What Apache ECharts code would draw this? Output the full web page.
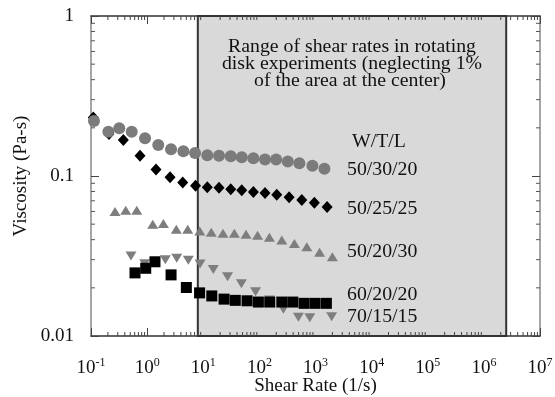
<!DOCTYPE html>
<html><head><meta charset="utf-8">
<script src="https://cdn.jsdelivr.net/npm/echarts@6/dist/echarts.min.js"></script>
<style>html,body{margin:0;padding:0;background:#fff}#c{width:555px;height:397px}</style>
</head><body><div id="c"></div>
<script>
// ---- data ----
const xExponents = [-1, 0, 1, 2, 3, 4, 5, 6, 7];
const yTickLabels = ['0.01', '0.1', '1'];
const xMin = 0.1, xMax = 1e7, yMin = 0.01, yMax = 1;
const rangeStart = 8, rangeEnd = 2.5e6;

const s503020X = [0.113, 0.204, 0.319, 0.531, 0.918, 1.58, 2.67, 4.42, 7.14, 11.8, 19.1, 30.9, 48.5, 78.2, 126, 199, 321, 516, 881, 1442];
const s503020Y = [0.221, 0.189, 0.199, 0.189, 0.172, 0.156, 0.147, 0.143, 0.139, 0.135, 0.134, 0.133, 0.131, 0.129, 0.127, 0.127, 0.123, 0.120, 0.116, 0.111];

const s502525X = [0.110, 0.209, 0.377, 0.747, 1.44, 2.56, 4.31, 7.29, 11.8, 19.1, 30.9, 48.5, 78.2, 126, 204, 339, 570, 955, 1610];
const s502525Y = [0.232, 0.183, 0.168, 0.134, 0.110, 0.0981, 0.0910, 0.0868, 0.0850, 0.0845, 0.0827, 0.0814, 0.0794, 0.0783, 0.0764, 0.0736, 0.0708, 0.0681, 0.0640];

const s502030X = [0.268, 0.416, 0.653, 1.26, 1.95, 3.31, 5.29, 8.67, 13.9, 22.5, 35.8, 57.9, 92.9, 151, 251, 421, 700, 1183, 2000];
const s502030Y = [0.0600, 0.0610, 0.0610, 0.0499, 0.0504, 0.0465, 0.0465, 0.0453, 0.0445, 0.0438, 0.0438, 0.0432, 0.0426, 0.0414, 0.0398, 0.0379, 0.0361, 0.0334, 0.0313];

const s701515X = [0.516, 0.906, 1.39, 2.11, 3.37, 5.42, 8.77, 15.1, 27.1, 47.8, 85.5, 152, 268, 496, 791, 1936];
const s701515Y = [0.0316, 0.0283, 0.0286, 0.0300, 0.0306, 0.0297, 0.0282, 0.0260, 0.0235, 0.0212, 0.0189, 0.0168, 0.0147, 0.0131, 0.0130, 0.0132];

const s602020X = [0.608, 0.944, 1.38, 2.67, 5.0, 8.6, 14.2, 23.5, 37.2, 60.4, 96, 153, 251, 394, 626, 984, 1563];
const s602020Y = [0.0248, 0.0265, 0.0291, 0.0241, 0.0201, 0.0186, 0.0178, 0.0170, 0.0167, 0.0166, 0.0163, 0.0163, 0.0163, 0.0163, 0.0160, 0.0160, 0.0160];

const legendTitle = 'W/T/L';
const seriesNames = ['50/30/20', '50/25/25', '50/20/30', '60/20/20', '70/15/15'];
const noteLines = ['Range of shear rates in rotating', 'disk experiments (neglecting 1%', 'of the area at the center)'];

// ---- helpers ----
const zip = (xs, ys) => xs.map((x, i) => [x, ys[i]]);
function minorTicks(lo, hi) {
  const out = [];
  for (let e = Math.round(Math.log10(lo)); e < Math.round(Math.log10(hi)); e++)
    for (let m = 2; m <= 9; m++) out.push(+(m * Math.pow(10, e)).toPrecision(6));
  return out;
}
const minorX = minorTicks(xMin, xMax);
const minorY = minorTicks(yMin, yMax);
const FONT = '"Liberation Serif", "Times New Roman", serif';
const TXT = '#111';

const chart = echarts.init(document.getElementById('c'));

function axisBase(extra) {
  return Object.assign({
    type: 'log', logBase: 10,
    splitLine: { show: false },
    axisTick: { show: true, inside: true, length: 8, lineStyle: { color: '#444', width: 1 } },
  }, extra);
}
function note(text, x, y, align) {
  return { type: 'text', x: x, y: y, scaleX: 1.1, z: 10,
    style: { text: text, font: '18px ' + FONT, fill: TXT, textAlign: align, textVerticalAlign: 'middle', align: align, verticalAlign: 'middle' } };
}

const option = {
  backgroundColor: '#fff',
  animation: false,
  grid: { left: 91, top: 16, width: 449, height: 320, containLabel: false, outerBoundsMode: 'none' },
  xAxis: [
    axisBase({
      position: 'bottom', min: xMin, max: xMax, splitNumber: 8,
      axisLine: { lineStyle: { color: '#333', width: 1.5 } },
      axisLabel: {
        margin: 21,
        formatter: function (v) {
          const e = Math.round(Math.log10(v));
          const ex = xExponents[xExponents.indexOf(e)];
          return '{b|10}{s|' + ex + '}';
        },
        rich: {
          b: { fontFamily: FONT, fontSize: 19, color: TXT, lineHeight: 22 },
          s: { fontFamily: FONT, fontSize: 12, color: TXT, verticalAlign: 'top', lineHeight: 14 }
        }
      },
      name: 'Shear Rate (1/s)', nameLocation: 'middle', nameGap: 41, nameMoveOverlap: false,
      nameTextStyle: { fontFamily: FONT, fontSize: 19, color: TXT }
    }),
    axisBase({
      position: 'top', min: xMin, max: xMax, splitNumber: 8,
      axisLine: { lineStyle: { color: '#333', width: 1.5 } },
      axisLabel: { show: false }
    })
  ],
  yAxis: [
    axisBase({
      position: 'left', min: yMin, max: yMax, splitNumber: 2,
      axisLine: { lineStyle: { color: '#888', width: 1.5 } },
      axisLabel: {
        margin: 17,
        fontFamily: FONT, fontSize: 19, color: TXT,
        formatter: function (v) {
          const i = Math.round(Math.log10(v / yMin));
          return yTickLabels[i];
        }
      },
      name: 'Viscosity (Pa-s)', nameLocation: 'middle', nameGap: 60, nameMoveOverlap: false,
      nameTextStyle: { fontFamily: FONT, fontSize: 19, color: TXT }
    }),
    axisBase({
      position: 'right', min: yMin, max: yMax, splitNumber: 2,
      axisLine: { lineStyle: { color: '#888', width: 1.5 } },
      axisLabel: { show: false }
    })
  ],
  series: [
    {
      type: 'scatter', name: seriesNames[1], data: zip(s502525X, s502525Y),
      symbol: 'diamond', symbolSize: [11, 12],
      itemStyle: { color: '#000', opacity: 1 }, z: 3,
      markArea: {
        silent: true,
        itemStyle: { color: '#d9d9d9', borderColor: '#333', borderWidth: 2, opacity: 1 },
        data: [[{ xAxis: rangeStart, yAxis: yMin }, { xAxis: rangeEnd, yAxis: yMax }]]
      }
    },
    {
      type: 'scatter', name: seriesNames[0], data: zip(s503020X, s503020Y),
      symbol: 'circle', symbolSize: 12,
      itemStyle: { color: '#7b7b7b', opacity: 1 }, z: 4
    },
    {
      type: 'scatter', name: seriesNames[2], data: zip(s502030X, s502030Y),
      symbol: 'triangle', symbolSize: [11, 9],
      itemStyle: { color: '#7e7e7e', opacity: 1 }, z: 4
    },
    {
      type: 'scatter', name: seriesNames[4], data: zip(s701515X, s701515Y),
      symbol: 'triangle', symbolRotate: 180, symbolSize: [11, 9],
      itemStyle: { color: '#7e7e7e', opacity: 1 }, z: 4
    },
    {
      type: 'scatter', name: seriesNames[3], data: zip(s602020X, s602020Y),
      symbol: 'rect', symbolSize: 11,
      itemStyle: { color: '#000', opacity: 1 }, z: 5
    },
    {
      type: 'custom', name: 'minorX', silent: true, clip: false, z: 6,
      data: minorX.map(v => [v, yMin]),
      renderItem: function (params, api) {
        const v = api.value(0);
        const b = api.coord([v, yMin]);
        const t = api.coord([v, yMax]);
        const st = { stroke: '#444', lineWidth: 1 };
        return { type: 'group', children: [
          { type: 'line', shape: { x1: b[0], y1: b[1], x2: b[0], y2: b[1] - 4 }, style: st },
          { type: 'line', shape: { x1: t[0], y1: t[1], x2: t[0], y2: t[1] + 4 }, style: st }
        ] };
      }
    },
    {
      type: 'custom', name: 'minorY', silent: true, clip: false, z: 6,
      data: minorY.map(v => [xMin, v]),
      renderItem: function (params, api) {
        const v = api.value(1);
        const l = api.coord([xMin, v]);
        const r = api.coord([xMax, v]);
        const st = { stroke: '#555', lineWidth: 1 };
        return { type: 'group', children: [
          { type: 'line', shape: { x1: l[0], y1: l[1], x2: l[0] + 4, y2: l[1] }, style: st },
          { type: 'line', shape: { x1: r[0], y1: r[1], x2: r[0] - 4, y2: r[1] }, style: st }
        ] };
      }
    }
  ],
  graphic: [
    note(noteLines[0], 352, 47, 'center'),
    note(noteLines[1], 352, 64, 'center'),
    note(noteLines[2], 350, 81, 'center'),
    note(legendTitle, 352, 142, 'left'),
    note(seriesNames[0], 347, 170, 'left'),
    note(seriesNames[1], 347, 209, 'left'),
    note(seriesNames[2], 347, 252, 'left'),
    note(seriesNames[3], 347, 295, 'left'),
    note(seriesNames[4], 347, 317, 'left')
  ]
};
chart.setOption(option);
</script>
</body></html>
